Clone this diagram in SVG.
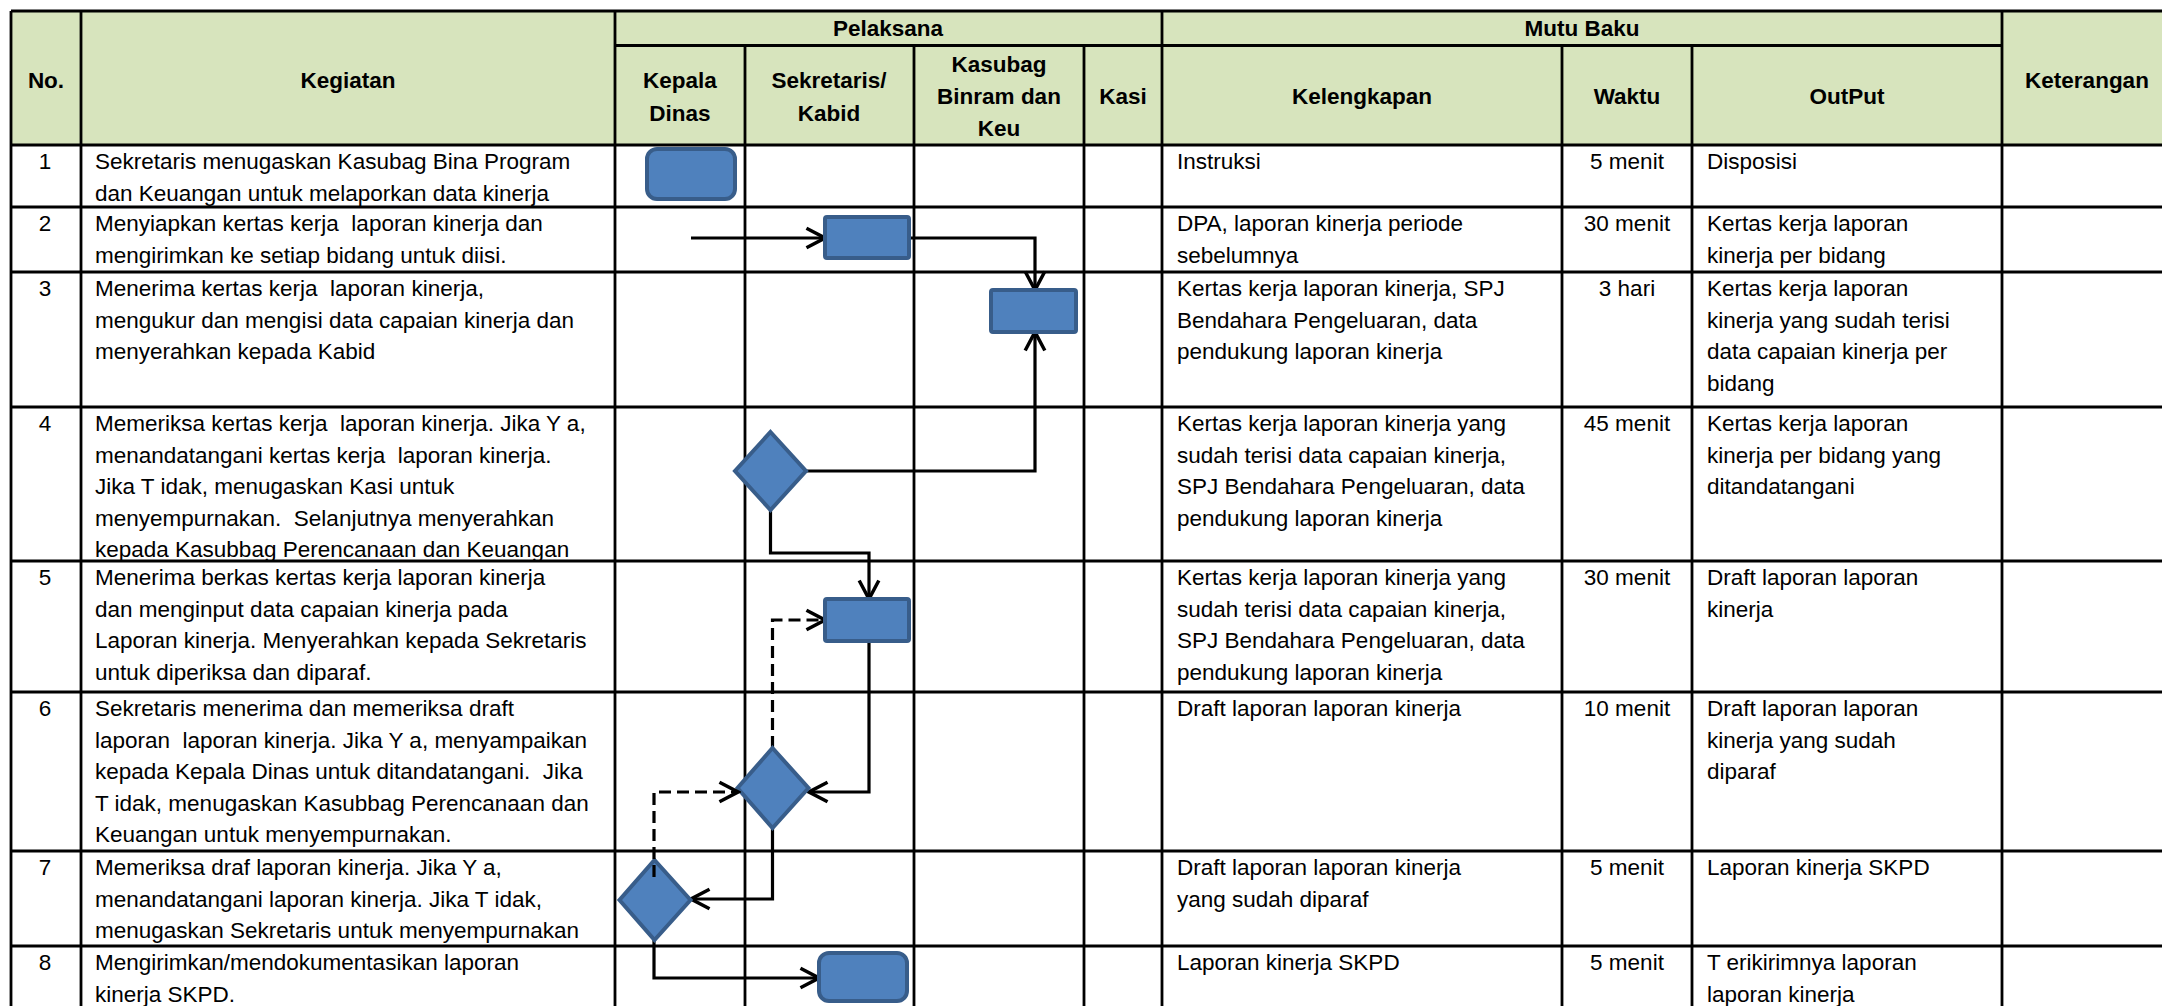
<svg xmlns="http://www.w3.org/2000/svg" width="2162" height="1006" viewBox="0 0 2162 1006">
<style>
text{font-family:"Liberation Sans",Arial,sans-serif;font-size:22.5px;fill:#000;white-space:pre}
.h{font-weight:bold;text-anchor:middle}
.c{text-anchor:middle}
.g{stroke:#000;stroke-width:2.8;fill:none}
.box{fill:#4F81BD;stroke:#385D8A;stroke-width:4}
.cn{fill:none;stroke:#000;stroke-width:3.2;marker-end:url(#ah)}
.ds{stroke-dasharray:12 6}
</style>
<defs>
<marker id="ah" markerUnits="userSpaceOnUse" markerWidth="24" markerHeight="24" refX="19" refY="11" orient="auto" viewBox="0 0 22 22">
<path d="M2,2 L19,11 L2,20" fill="none" stroke="#000" stroke-width="3.2"/>
</marker>
</defs>
<rect width="2162" height="1006" fill="#fff"/>
<g id="table">
<rect x="11" y="11" width="2164" height="134" fill="#D7E4BD"/>
<path class="g" d="M11,11H2175 M615,45.5H2002 M11,145H2175 M11,207H2175 M11,272H2175 M11,407H2175 M11,561H2175 M11,692H2175 M11,851H2175 M11,946H2175"/>
<path class="g" d="M11,11V1010 M81,11V1010 M615,11V1010 M745,45.5V1010 M914,45.5V1010 M1084,45.5V1010 M1162,11V1010 M1562,45.5V1010 M1692,45.5V1010 M2002,11V1010"/>
</g>
<g id="header">
<text class="h" x="46" y="88">No.</text>
<text class="h" x="348" y="88">Kegiatan</text>
<text class="h" x="888" y="36">Pelaksana</text>
<text class="h" x="1582" y="36">Mutu Baku</text>
<text class="h" x="2087" y="88">Keterangan</text>
<text class="h" x="680" y="88">Kepala</text>
<text class="h" x="680" y="121">Dinas</text>
<text class="h" x="829" y="88">Sekretaris/</text>
<text class="h" x="829" y="121">Kabid</text>
<text class="h" x="999" y="72">Kasubag</text>
<text class="h" x="999" y="104">Binram dan</text>
<text class="h" x="999" y="136">Keu</text>
<text class="h" x="1123" y="104">Kasi</text>
<text class="h" x="1362" y="104">Kelengkapan</text>
<text class="h" x="1627" y="104">Waktu</text>
<text class="h" x="1847" y="104">OutPut</text>
</g>
<g id="row1">
<text class="c" x="45" y="169">1</text>
<text x="95" y="169">Sekretaris menugaskan Kasubag Bina Program</text>
<text x="95" y="200.6">dan Keuangan untuk melaporkan data kinerja</text>
<text x="1177" y="169">Instruksi</text>
<text class="c" x="1627" y="169">5 menit</text>
<text x="1707" y="169">Disposisi</text>
</g>
<g id="row2">
<text class="c" x="45" y="231">2</text>
<text x="95" y="231">Menyiapkan kertas kerja  laporan kinerja dan</text>
<text x="95" y="262.6">mengirimkan ke setiap bidang untuk diisi.</text>
<text x="1177" y="231">DPA, laporan kinerja periode</text>
<text x="1177" y="262.6">sebelumnya</text>
<text class="c" x="1627" y="231">30 menit</text>
<text x="1707" y="231">Kertas kerja laporan</text>
<text x="1707" y="262.6">kinerja per bidang</text>
</g>
<g id="row3">
<text class="c" x="45" y="296">3</text>
<text x="95" y="296">Menerima kertas kerja  laporan kinerja,</text>
<text x="95" y="327.6">mengukur dan mengisi data capaian kinerja dan</text>
<text x="95" y="359.2">menyerahkan kepada Kabid</text>
<text x="1177" y="296">Kertas kerja laporan kinerja, SPJ</text>
<text x="1177" y="327.6">Bendahara Pengeluaran, data</text>
<text x="1177" y="359.2">pendukung laporan kinerja</text>
<text class="c" x="1627" y="296">3 hari</text>
<text x="1707" y="296">Kertas kerja laporan</text>
<text x="1707" y="327.6">kinerja yang sudah terisi</text>
<text x="1707" y="359.2">data capaian kinerja per</text>
<text x="1707" y="390.8">bidang</text>
</g>
<g id="row4">
<text class="c" x="45" y="431">4</text>
<text x="95" y="431">Memeriksa kertas kerja  laporan kinerja. Jika Y a,</text>
<text x="95" y="462.6">menandatangani kertas kerja  laporan kinerja.</text>
<text x="95" y="494.2">Jika T idak, menugaskan Kasi untuk</text>
<text x="95" y="525.8">menyempurnakan.  Selanjutnya menyerahkan</text>
<text x="95" y="557.4">kepada Kasubbag Perencanaan dan Keuangan</text>
<text x="1177" y="431">Kertas kerja laporan kinerja yang</text>
<text x="1177" y="462.6">sudah terisi data capaian kinerja,</text>
<text x="1177" y="494.2">SPJ Bendahara Pengeluaran, data</text>
<text x="1177" y="525.8">pendukung laporan kinerja</text>
<text class="c" x="1627" y="431">45 menit</text>
<text x="1707" y="431">Kertas kerja laporan</text>
<text x="1707" y="462.6">kinerja per bidang yang</text>
<text x="1707" y="494.2">ditandatangani</text>
</g>
<g id="row5">
<text class="c" x="45" y="585">5</text>
<text x="95" y="585">Menerima berkas kertas kerja laporan kinerja</text>
<text x="95" y="616.6">dan menginput data capaian kinerja pada</text>
<text x="95" y="648.2">Laporan kinerja. Menyerahkan kepada Sekretaris</text>
<text x="95" y="679.8">untuk diperiksa dan diparaf.</text>
<text x="1177" y="585">Kertas kerja laporan kinerja yang</text>
<text x="1177" y="616.6">sudah terisi data capaian kinerja,</text>
<text x="1177" y="648.2">SPJ Bendahara Pengeluaran, data</text>
<text x="1177" y="679.8">pendukung laporan kinerja</text>
<text class="c" x="1627" y="585">30 menit</text>
<text x="1707" y="585">Draft laporan laporan</text>
<text x="1707" y="616.6">kinerja</text>
</g>
<g id="row6">
<text class="c" x="45" y="716">6</text>
<text x="95" y="716">Sekretaris menerima dan memeriksa draft</text>
<text x="95" y="747.6">laporan  laporan kinerja. Jika Y a, menyampaikan</text>
<text x="95" y="779.2">kepada Kepala Dinas untuk ditandatangani.  Jika</text>
<text x="95" y="810.8">T idak, menugaskan Kasubbag Perencanaan dan</text>
<text x="95" y="842.4">Keuangan untuk menyempurnakan.</text>
<text x="1177" y="716">Draft laporan laporan kinerja</text>
<text class="c" x="1627" y="716">10 menit</text>
<text x="1707" y="716">Draft laporan laporan</text>
<text x="1707" y="747.6">kinerja yang sudah</text>
<text x="1707" y="779.2">diparaf</text>
</g>
<g id="row7">
<text class="c" x="45" y="875">7</text>
<text x="95" y="875">Memeriksa draf laporan kinerja. Jika Y a,</text>
<text x="95" y="906.6">menandatangani laporan kinerja. Jika T idak,</text>
<text x="95" y="938.2">menugaskan Sekretaris untuk menyempurnakan</text>
<text x="1177" y="875">Draft laporan laporan kinerja</text>
<text x="1177" y="906.6">yang sudah diparaf</text>
<text class="c" x="1627" y="875">5 menit</text>
<text x="1707" y="875">Laporan kinerja SKPD</text>
</g>
<g id="row8">
<text class="c" x="45" y="970">8</text>
<text x="95" y="970">Mengirimkan/mendokumentasikan laporan</text>
<text x="95" y="1001.6">kinerja SKPD.</text>
<text x="1177" y="970">Laporan kinerja SKPD</text>
<text class="c" x="1627" y="970">5 menit</text>
<text x="1707" y="970">T erikirimnya laporan</text>
<text x="1707" y="1001.6">laporan kinerja</text>
</g>
<g id="connectors">
<path class="cn" d="M691,238H825"/>
<path class="cn" d="M909,238H1035V290"/>
<path class="cn" d="M806,471H1035V332"/>
<path class="cn" d="M770.5,510V553H869V599"/>
<path class="cn ds" d="M772.5,748V620H825"/>
<path class="cn" d="M869,641V792H809"/>
<path class="cn" d="M772.5,828V899H691"/>
<path class="cn" d="M654,940V978H819"/>
</g>
<g id="node1"><rect class="box" x="647" y="149" width="88" height="50" rx="10"/></g>
<g id="node2"><rect class="box" x="825" y="217" width="84" height="41" rx="2"/></g>
<g id="node3"><rect class="box" x="991" y="290" width="85" height="42" rx="2"/></g>
<g id="node4"><polygon class="box" points="770.5,432 806,471 770.5,510 735,471"/></g>
<g id="node5"><rect class="box" x="825" y="599" width="84" height="42" rx="2"/></g>
<g id="node6"><polygon class="box" points="772.5,748 808.5,788 772.5,828 737.5,788"/></g>
<g id="node7"><polygon class="box" points="654.5,860 690.5,900 654.5,940 619.5,900"/></g>
<g id="node8"><rect class="box" x="819" y="953" width="88" height="48" rx="10"/></g>
<g id="connectors-top">
<path class="cn ds" d="M654,877V792H738"/>
</g>
</svg>
